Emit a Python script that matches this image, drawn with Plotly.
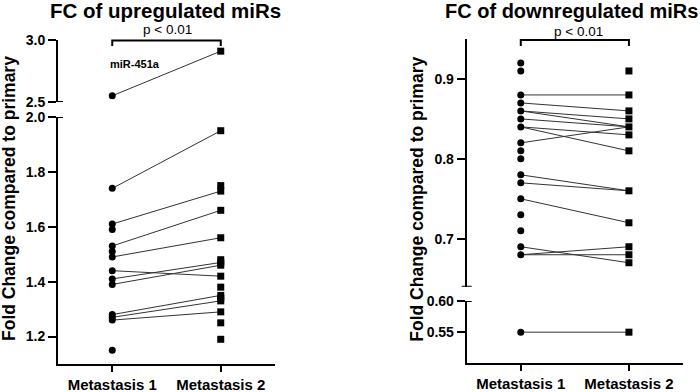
import plotly.graph_objects as go

# ---------------- data ----------------
categories = ["Metastasis 1", "Metastasis 2"]

# Upregulated miRs (left panel)
up_met1 = [2.55, 1.74, 1.61, 1.59, 1.53, 1.51, 1.49, 1.44, 1.41, 1.39, 1.28, 1.27, 1.26, 1.15]
up_met2 = [2.91, 1.95, 1.75, 1.73, 1.66, 1.56, 1.48, 1.47, 1.46, 1.42, 1.38, 1.35, 1.34, 1.33, 1.29, 1.25, 1.19]
up_pair_m1 = [2.55, 1.74, 1.61, 1.53, 1.49, 1.44, 1.41, 1.39, 1.28, 1.27, 1.26]
up_pair_m2 = [2.91, 1.95, 1.73, 1.66, 1.56, 1.42, 1.47, 1.46, 1.35, 1.33, 1.29]
up_break = 2.5  # values >= this go on upper segment
up_lower_ticks = [1.2, 1.4, 1.6, 1.8, 2.0]
up_upper_ticks = [2.5, 3.0]

# Downregulated miRs (right panel)
dn_met1 = [0.92, 0.91, 0.88, 0.87, 0.86, 0.85, 0.84, 0.82, 0.81, 0.80, 0.78, 0.77, 0.75, 0.73, 0.71, 0.69, 0.68, 0.55]
dn_met2 = [0.91, 0.88, 0.86, 0.85, 0.84, 0.83, 0.81, 0.76, 0.72, 0.69, 0.68, 0.67, 0.55]
dn_pair_m1 = [0.88, 0.87, 0.86, 0.86, 0.85, 0.84, 0.84, 0.82, 0.78, 0.77, 0.75, 0.69, 0.68, 0.68, 0.55]
dn_pair_m2 = [0.88, 0.86, 0.85, 0.84, 0.84, 0.83, 0.81, 0.84, 0.76, 0.76, 0.72, 0.67, 0.69, 0.68, 0.55]
dn_break = 0.62
dn_lower_ticks = [0.55, 0.60]
dn_lower_text = ["0.55", "0.60"]
dn_upper_ticks = [0.7, 0.8, 0.9]

FONT = "Arial, Liberation Sans, sans-serif"
W, H = 700, 392


def px(x):
    return x / W


def py(y):
    return (H - y) / H


fig = go.Figure()


def add_panel(met1, met2, p1, p2, brk, xa, ya_low, ya_up):
    for hi, ya in [(False, ya_low), (True, ya_up)]:
        sel = (lambda v: v >= brk) if hi else (lambda v: v < brk)
        lx, ly = [], []
        for a, b in zip(p1, p2):
            if sel(a) and sel(b):
                lx += [0, 1, None]
                ly += [a, b, None]
        fig.add_trace(go.Scatter(x=lx, y=ly, mode="lines", xaxis=xa, yaxis=ya,
                                 line=dict(color="#333333", width=1), hoverinfo="skip",
                                 showlegend=False))
        v1 = [v for v in met1 if sel(v)]
        v2 = [v for v in met2 if sel(v)]
        fig.add_trace(go.Scatter(x=[0] * len(v1), y=v1, mode="markers", xaxis=xa, yaxis=ya,
                                 marker=dict(symbol="circle", size=7, color="black"),
                                 showlegend=False, cliponaxis=False))
        fig.add_trace(go.Scatter(x=[1] * len(v2), y=v2, mode="markers", xaxis=xa, yaxis=ya,
                                 marker=dict(symbol="square", size=7, color="black"),
                                 showlegend=False, cliponaxis=False))


add_panel(up_met1, up_met2, up_pair_m1, up_pair_m2, up_break, "x", "y", "y2")
add_panel(dn_met1, dn_met2, dn_pair_m1, dn_pair_m2, dn_break, "x2", "y3", "y4")

ytickfont = dict(family=FONT, size=14, color="black", weight="bold")
xtickfont = dict(family=FONT, size=15, color="black", weight="bold")
common_y = dict(showline=True, linewidth=2, linecolor="black", ticks="outside", ticklen=8,
                tickwidth=2, tickcolor="black", showgrid=False, zeroline=False, tickfont=ytickfont,
                automargin=False)
common_x = dict(showline=True, linewidth=2, linecolor="black", ticks="outside", ticklen=6,
                tickwidth=2, tickcolor="black", showgrid=False, zeroline=False, tickfont=xtickfont,
                range=[-0.5, 1.5], tickvals=[0, 1], ticktext=categories, automargin=False)

lx0 = px(58)
rx0 = px(466.7)

fig.update_layout(
    width=W, height=H, margin=dict(l=0, r=0, t=0, b=0),
    plot_bgcolor="white", paper_bgcolor="white",
    xaxis=dict(domain=[lx0, px(275)], anchor="y", **common_x),
    yaxis=dict(domain=[py(364), py(117)], range=[1.1, 2.0], anchor="x",
               tickvals=up_lower_ticks, tickformat=".1f", **common_y),
    yaxis2=dict(domain=[py(102), py(40)], range=[2.4999, 3.0001], anchor="x",
                tickvals=up_upper_ticks, tickformat=".1f", **common_y),
    xaxis2=dict(domain=[rx0, px(683)], anchor="y3", **common_x),
    yaxis3=dict(domain=[py(363.3), py(301)], range=[0.5, 0.6001], anchor="x2",
                tickvals=dn_lower_ticks, ticktext=dn_lower_text, **common_y),
    yaxis4=dict(domain=[py(286.7), py(39)], range=[0.64, 0.95], anchor="x2",
                tickvals=dn_upper_ticks, tickformat=".1f", **common_y),
)

shapes = []
# break caps
for xp, yref, yv, left in [(lx0, "y2", 2.5, 0), (lx0, "y", 2.0, 0),
                           (rx0, "y4", 0.64, 5), (rx0, "y3", 0.6, 0)]:
    shapes.append(dict(type="line", xref="paper", yref=yref, x0=xp - left / W, x1=xp + 5 / W,
                       y0=yv, y1=yv, line=dict(color="black", width=2)))
# significance brackets
for xr, ytop, ybot in [("x", py(40.5), py(46)), ("x2", py(40), py(46))]:
    shapes.append(dict(type="path", xref=xr, yref="paper",
                       path=f"M 0,{ybot} L 0,{ytop} L 1,{ytop} L 1,{ybot}",
                       line=dict(color="black", width=2)))
fig.update_layout(shapes=shapes)

ann = []
ann.append(dict(text="FC of upregulated miRs", x=px(165.5), y=py(11), xref="paper", yref="paper",
                showarrow=False, xanchor="center", yanchor="middle",
                font=dict(family=FONT, size=20.5, color="black", weight="bold")))
ann.append(dict(text="FC of downregulated miRs", x=px(571), y=py(11), xref="paper", yref="paper",
                showarrow=False, xanchor="center", yanchor="middle",
                font=dict(family=FONT, size=20, color="black", weight="bold")))
ann.append(dict(text="p < 0.01", x=0.5, y=py(29), xref="x", yref="paper", showarrow=False,
                xanchor="center", yanchor="middle", xshift=1,
                font=dict(family=FONT, size=13.5, color="black")))
ann.append(dict(text="p < 0.01", x=0.5, y=py(31), xref="x2", yref="paper", showarrow=False,
                xanchor="center", yanchor="middle", xshift=4,
                font=dict(family=FONT, size=13.5, color="black")))
ann.append(dict(text="miR-451a", x=-0.04, y=2.806, xref="x", yref="y2", showarrow=False,
                xanchor="left", yanchor="middle",
                font=dict(family=FONT, size=11, color="black", weight="bold")))
for xp in [px(9), px(416.7)]:
    ann.append(dict(text="Fold Change compared to primary", x=xp, y=py(199), xref="paper",
                    yref="paper", showarrow=False, textangle=-90, xanchor="center", yanchor="middle",
                    font=dict(family=FONT, size=17.5, color="black", weight="bold")))
fig.update_layout(annotations=ann)

fig.write_html("out.html", config={"displayModeBar": False},
               post_script="document.body.style.margin='0px';")
